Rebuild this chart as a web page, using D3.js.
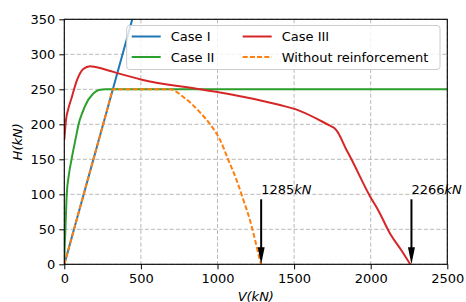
<!DOCTYPE html>
<html>
<head>
<meta charset="utf-8">
<script src="https://cdn.jsdelivr.net/npm/d3@7"></script>
<style>
  body { margin: 0; background: #fff; }
  text { font-family: "DejaVu Sans", sans-serif; }
</style>
</head>
<body>
<div id="chart"></div>
<script>
// data (V in kN, H in kN)
var xTicks = [0, 500, 1000, 1500, 2000, 2500];
var yTicks = [0, 50, 100, 150, 200, 250, 300, 350];

var caseI = [[0, 0], [460, 363]];
var caseII = [[0, 0], [2, 20], [6.5, 45], [16, 100], [30, 128], [50, 153], [81, 187], [91, 198],
  [124, 220], [135, 226], [189, 244], [233, 249.5], [270, 250], [2500, 250]];
var caseIII = [[0, 178], [4.6, 191], [11, 206], [26, 222], [48, 238], [81, 262], [124, 279], [168, 283],
  [255, 279], [364, 272], [500, 264], [886, 250], [1000, 246], [1082, 243], [1408, 227.5],
  [1517, 221], [1734, 198], [1760, 195], [1778, 191], [1843, 163], [1865, 154], [1996, 97],
  [2050, 77], [2126, 44], [2200, 20], [2258, 0]];
var withoutReinf = [[0, 0], [150, 118.5], [300, 237], [316, 250], [690, 250], [777, 239], [886, 217],
  [962, 197], [1016, 178], [1071, 149], [1125, 120], [1169, 92], [1212, 63], [1245, 35], [1277, 6],
  [1285, 0]];

var arrows = [{ v: 1285, label: "1285" }, { v: 2266, label: "2266" }];

var W = 466, Hh = 302;
var margin = { top: 19.3, right: 18.7, bottom: 37.7, left: 64.3 },
  width = W - margin.left - margin.right,
  height = Hh - margin.top - margin.bottom;

var svg = d3.select("#chart").append("svg")
  .attr("width", W).attr("height", Hh);

var g = svg.append("g")
  .attr("transform", "translate(" + margin.left + "," + margin.top + ")");

var x = d3.scaleLinear().domain([0, 2500]).range([0, width]);
var y = d3.scaleLinear().domain([0, 350]).range([height, 0]);

// grid
g.append("g").selectAll("line").data(xTicks).enter().append("line")
  .attr("x1", function(d) { return x(d); }).attr("x2", function(d) { return x(d); })
  .attr("y1", 0).attr("y2", height)
  .style("stroke", "#b0b0b0").style("stroke-width", 0.9).style("stroke-dasharray", "4,2.2");
g.append("g").selectAll("line").data(yTicks).enter().append("line")
  .attr("y1", function(d) { return y(d); }).attr("y2", function(d) { return y(d); })
  .attr("x1", 0).attr("x2", width)
  .style("stroke", "#b0b0b0").style("stroke-width", 0.9).style("stroke-dasharray", "4,2.2");

svg.append("defs").append("clipPath").attr("id", "clip")
  .append("rect").attr("width", width).attr("height", height);

var line = d3.line()
  .x(function(d) { return x(d[0]); })
  .y(function(d) { return y(d[1]); });
var smooth = d3.line()
  .curve(d3.curveMonotoneX)
  .x(function(d) { return x(d[0]); })
  .y(function(d) { return y(d[1]); });

var curves = g.append("g").attr("clip-path", "url(#clip)");
var series = [
  { name: "Case I", data: caseI, color: "#1f77b4", dash: null, gen: line },
  { name: "Case II", data: caseII, color: "#2ca02c", dash: null, gen: smooth },
  { name: "Case III", data: caseIII, color: "#d62728", dash: null, gen: smooth },
  { name: "Without reinforcement", data: withoutReinf, color: "#ff7f0e", dash: "5,2.2", gen: smooth }
];
series.forEach(function(s) {
  curves.append("path").datum(s.data)
    .attr("d", s.gen)
    .style("fill", "none")
    .style("stroke", s.color)
    .style("stroke-width", 2)
    .style("stroke-dasharray", s.dash);
});

// arrows and labels
arrows.forEach(function(a) {
  var ax = x(a.v);
  g.append("line")
    .attr("x1", ax).attr("x2", ax)
    .attr("y1", y(100) + 5).attr("y2", y(0) - 14)
    .style("stroke", "#000").style("stroke-width", 2);
  g.append("path")
    .attr("d", "M" + (ax - 3.5) + "," + (y(0) - 17) + "L" + (ax + 3.5) + "," + (y(0) - 17) +
      "L" + ax + "," + y(0) + "Z")
    .style("fill", "#000");
  var t = g.append("text")
    .attr("x", ax).attr("y", y(100))
    .style("font-size", "13px");
  t.append("tspan").text(a.label);
  t.append("tspan").style("font-style", "italic").text("kN");
});

// axes
var xAxis = g.append("g")
  .attr("transform", "translate(0," + height + ")")
  .call(d3.axisBottom(x).tickValues(xTicks).tickSize(5).tickPadding(4).tickFormat(d3.format("d")));
var yAxis = g.append("g")
  .call(d3.axisLeft(y).tickValues(yTicks).tickSize(5).tickPadding(4).tickFormat(d3.format("d")));
[xAxis, yAxis].forEach(function(ax) {
  ax.select(".domain").remove();
  ax.selectAll("line").style("stroke", "#000").style("stroke-width", 1);
  ax.selectAll("text").style("font-size", "13px").style("font-family", "DejaVu Sans").style("fill", "#000");
});

// frame
g.append("rect").attr("width", width).attr("height", height)
  .style("fill", "none").style("stroke", "#000").style("stroke-width", 1.1);

// axis labels
svg.append("text")
  .attr("x", margin.left + width / 2).attr("y", 301)
  .attr("text-anchor", "middle")
  .style("font-size", "13px").style("font-style", "italic")
  .text("V(kN)");
svg.append("text")
  .attr("transform", "translate(22," + (margin.top + height / 2) + ") rotate(-90)")
  .attr("text-anchor", "middle")
  .style("font-size", "13px").style("font-style", "italic")
  .text("H(kN)");

// legend
var legend = svg.append("g");
legend.append("rect")
  .attr("x", 126.7).attr("y", 25.5).attr("width", 313.3).attr("height", 44)
  .attr("rx", 3).attr("ry", 3)
  .style("fill", "#fff").style("fill-opacity", 0.8)
  .style("stroke", "#cccccc").style("stroke-width", 1);
var cols = [131.7, 242.7];
var rows = [36.5, 57];
series.forEach(function(s, i) {
  var cx = cols[Math.floor(i / 2)], cy = rows[i % 2];
  legend.append("line")
    .attr("x1", cx).attr("x2", cx + 29).attr("y1", cy).attr("y2", cy)
    .style("stroke", s.color).style("stroke-width", 2)
    .style("stroke-dasharray", s.dash);
  legend.append("text")
    .attr("x", cx + 39).attr("y", cy).attr("dy", "0.35em")
    .style("font-size", "13px")
    .text(s.name);
});
</script>
</body>
</html>
